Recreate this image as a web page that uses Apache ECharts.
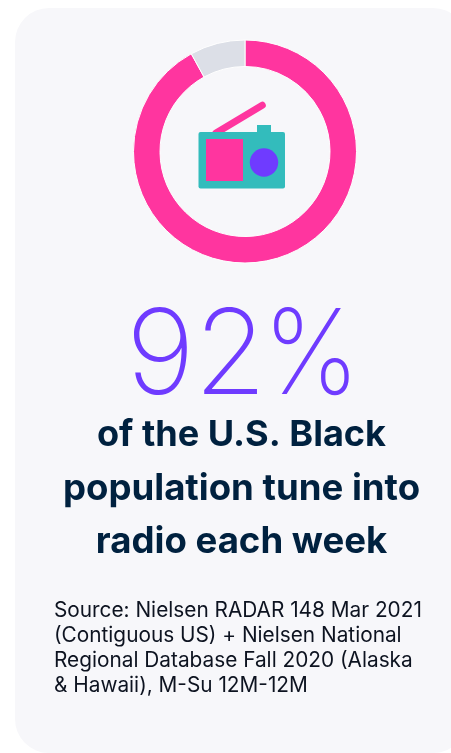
<!DOCTYPE html>
<html><head><meta charset="utf-8">
<style>html,body{margin:0;padding:0;background:#fff}#c{width:451px;height:753px}</style>
<script src="https://cdn.jsdelivr.net/npm/echarts@6/dist/echarts.min.js"></script></head>
<body><div id="c"></div>
<script>
const categories = ['Tune into radio each week', 'Do not tune in'];
const values = [92, 8];
const sliceColors = ['#ff359f', '#dcdfe7'];
const bigNumber = ['9', '2', '%'];
const headlineLines = ['of the U.S. Black', 'population tune into', 'radio each week'];
const sourceLines = ['Source: Nielsen RADAR 148 Mar 2021', '(Contiguous US) + Nielsen National', 'Regional Database Fall 2020 (Alaska', '& Hawaii), M-Su 12M-12M'];

const chart = echarts.init(document.getElementById('c'), null, {renderer: 'canvas'});
const bigX = [160.5, 230.5, 311.5];
const bigScale = [1, 1, 0.92];
const headY = [435, 489, 542];
const headSize = [36.1, 36.6, 36.6];
const srcY = [611, 636, 661, 686];
const graphic = [
  {type:'rect', z:0, silent:true, shape:{x:15,y:8,width:452,height:745,r:34}, style:{fill:'#f7f7fa'}},
  {type:'line', z:5, silent:true, shape:{x1:216,y1:133,x2:262.3,y2:105.3}, style:{stroke:'#ff359f',lineWidth:7,lineCap:'round'}},
  {type:'rect', z:6, silent:true, shape:{x:257,y:125,width:14,height:9}, style:{fill:'#33bcbc'}},
  {type:'rect', z:6, silent:true, shape:{x:198.5,y:132,width:86.5,height:56.5,r:2}, style:{fill:'#33bcbc'}},
  {type:'rect', z:7, silent:true, shape:{x:206,y:139,width:37,height:42}, style:{fill:'#ff359f'}},
  {type:'circle', z:7, silent:true, shape:{cx:264,cy:162.5,r:14.2}, style:{fill:'#6f3bff'}}
];
bigNumber.forEach((t,i)=>graphic.push({type:'text', z:8, silent:true, x:bigX[i], y:359, scaleX:bigScale[i], style:{text:t, fill:'#6f3bff', font:'200 118px Inter', align:'center', verticalAlign:'middle'}}));
headlineLines.forEach((t,i)=>graphic.push({type:'text', z:8, silent:true, x:241.5, y:headY[i], style:{text:t, fill:'#00213f', font:'700 '+headSize[i]+'px Inter', align:'center', verticalAlign:'middle'}}));
sourceLines.forEach((t,i)=>graphic.push({type:'text', z:8, silent:true, x:54, y:srcY[i], style:{text:t, fill:'#0d1320', font:'400 20.8px Inter', align:'left', verticalAlign:'middle'}}));
chart.setOption({
  animation:false,
  graphic,
  series:[{
    type:'pie', radius:[85,111.5], center:[245,151.5], startAngle:90, clockwise:true,
    silent:true, label:{show:false}, labelLine:{show:false},
    itemStyle:{borderColor:'#ffffff', borderWidth:1},
    data:categories.map((name,i)=>({name, value:values[i], itemStyle:{color:sliceColors[i]}}))
  }]
});
</script></body></html>
